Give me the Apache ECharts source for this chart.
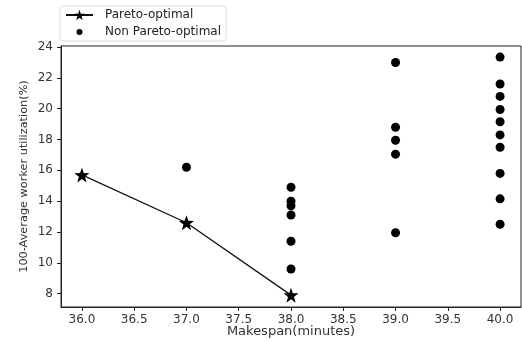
<!DOCTYPE html>
<html>
<head>
<meta charset="utf-8">
<script src="https://cdn.jsdelivr.net/npm/echarts@6/dist/echarts.min.js"></script>
<style>
  html, body { margin: 0; padding: 0; background: #fff; }
  #chart { width: 522px; height: 341px; }
</style>
</head>
<body>
<div id="chart"></div>
<script>
// Pareto front
const paretoX = [36, 37, 38]
const paretoY = [15.7, 12.6, 7.9]

// non Pareto-optimal solutions
const otherX = [37, 38, 38, 38, 38, 38, 38, 39, 39, 39, 39, 39, 40, 40, 40, 40, 40, 40, 40, 40, 40, 40]
const otherY = [16.2, 14.9, 14.0, 13.7, 13.1, 11.4, 9.6, 23.0, 18.8, 17.95, 17.05, 11.95,
  23.35, 21.6, 20.8, 19.95, 19.15, 18.3, 17.5, 15.8, 14.15, 12.5]

const xTicks = [36, 36.5, 37, 37.5, 38, 38.5, 39, 39.5, 40]
const yTicks = [8, 10, 12, 14, 16, 18, 20, 22, 24]

const STAR = 'path://M0,-10 L2.35,-3.24 L9.51,-3.09 L3.8,1.24 L5.88,8.09 L0,4 L-5.88,8.09 L-3.8,1.24 L-9.51,-3.09 L-2.35,-3.24 Z'
// small dot centred in a 27x12 box, for the legend
const SMALL_DOT = 'path://M0,0 M27,12 M10.5,6 a3,3 0 1,0 6,0 a3,3 0 1,0 -6,0 Z'
const FONT = 'DejaVu Sans'

const chart = echarts.init(document.getElementById('chart'))

const axisCommon = {
  axisLine: { show: true, lineStyle: { color: '#222', width: 1 } },
  axisTick: { show: true, length: 4, lineStyle: { color: '#222' } },
  splitLine: { show: false },
  nameMoveOverlap: false,
}

chart.setOption({
  animation: false,
  textStyle: { fontFamily: FONT },
  grid: {
    left: 61, right: 1, top: 46, bottom: 34,
    outerBoundsMode: 'none',
    show: true, borderColor: '#222', borderWidth: 1,
  },
  legend: {
    orient: 'vertical',
    left: 60, top: 6,
    padding: [3, 5, 3, 5],
    itemGap: 5,
    itemWidth: 27, itemHeight: 13,
    borderColor: '#ddd', borderWidth: 1, borderRadius: 3,
    textStyle: { fontFamily: FONT, fontSize: 12, color: '#222', padding: [0, 0, 0, 7] },
    data: [
      { name: 'Pareto-optimal' },
      { name: 'Non Pareto-optimal', icon: SMALL_DOT },
    ],
  },
  xAxis: {
    type: 'value',
    min: 35.8, max: 40.2,
    ...axisCommon,
    axisTick: { ...axisCommon.axisTick, customValues: xTicks },
    axisLabel: {
      customValues: xTicks,
      formatter: v => v.toFixed(1),
      color: '#333', fontSize: 12, margin: 7,
    },
    name: 'Makespan(minutes)',
    nameLocation: 'middle',
    nameGap: 18,
    nameTextStyle: { fontFamily: FONT, fontSize: 13, color: '#333' },
  },
  yAxis: {
    type: 'value',
    min: 7.13, max: 24.07,
    ...axisCommon,
    axisTick: { ...axisCommon.axisTick, customValues: yTicks },
    axisLabel: {
      customValues: yTicks,
      color: '#333', fontSize: 12, margin: 8,
    },
    name: '100-Average worker utilization(%)',
    nameLocation: 'middle',
    nameGap: 31,
    nameTextStyle: { fontFamily: FONT, fontSize: 11.3, color: '#333' },
  },
  series: [
    {
      name: 'Pareto-optimal',
      type: 'line',
      data: paretoX.map((x, i) => [x, paretoY[i]]),
      symbol: STAR,
      symbolSize: 15,
      lineStyle: { color: '#111', width: 1.3 },
      itemStyle: { color: '#000' },
      z: 3,
    },
    {
      name: 'Non Pareto-optimal',
      type: 'scatter',
      data: otherX.map((x, i) => [x, otherY[i]]),
      symbol: 'circle',
      symbolSize: 9,
      itemStyle: { color: '#000', opacity: 1 },
    },
  ],
})
</script>
</body>
</html>
